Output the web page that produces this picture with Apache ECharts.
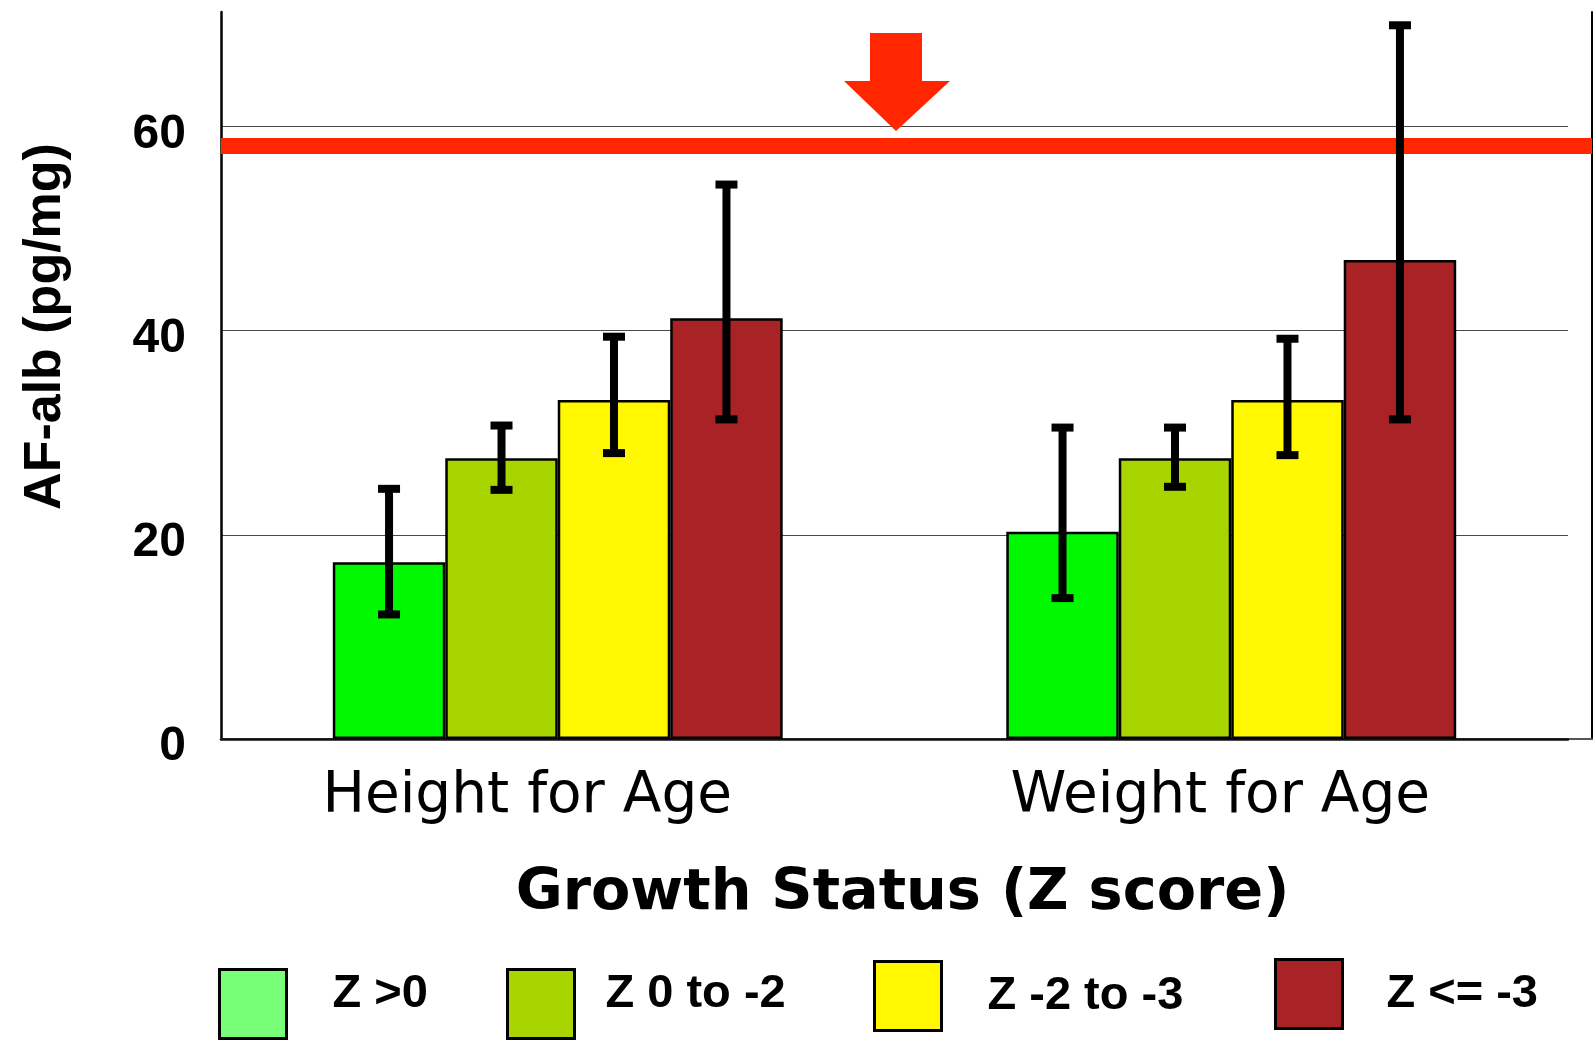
<!DOCTYPE html>
<html>
<head>
<meta charset="utf-8">
<title>AF-alb by Growth Status</title>
<script src="https://cdn.jsdelivr.net/npm/echarts@6/dist/echarts.min.js"></script>
<style>
  html, body { margin: 0; padding: 0; background: #ffffff; }
  #chart { width: 1595px; height: 1045px; }
</style>
</head>
<body>
<div id="chart"></div>
<script>
// Growth status groups on the x axis
const categories = ['Height for Age', 'Weight for Age'];

// Z-score classes (one bar series each)
const seriesNames = ['Z >0', 'Z 0 to -2', 'Z -2 to -3', 'Z <= -3'];

// Mean AF-alb (pg/mg) per class, in category order
const meanZPos   = [17.3, 20.3];
const meanZ0to2  = [27.5, 27.5];
const meanZ2to3  = [33.2, 33.2];
const meanZLe3   = [41.2, 46.9];

// Error bar limits (lower / upper) per class, in category order
const lowZPos   = [12.2, 13.8];
const highZPos  = [24.5, 30.5];
const lowZ0to2  = [24.4, 24.7];
const highZ0to2 = [30.7, 30.5];
const lowZ2to3  = [28.0, 27.8];
const highZ2to3 = [39.4, 39.2];
const lowZLe3   = [31.3, 31.3];
const highZLe3  = [54.3, 69.9];

// Reference level drawn as the red horizontal band
const thresholdValue = 58.1;

// Value axis range and tick step
const yMin = 0;
const yMax = 71.2;
const yStep = 20;

const means = [meanZPos, meanZ0to2, meanZ2to3, meanZLe3];
const lows = [lowZPos, lowZ0to2, lowZ2to3, lowZLe3];
const highs = [highZPos, highZ0to2, highZ2to3, highZLe3];

const barColors = ['#00f800', '#a8d400', '#fff800', '#a82226'];
const legendColors = ['#77ff77', '#a8d400', '#fff800', '#a82226'];

const BAR_FRAC = 0.167; // bar width as a share of the category band

const boldSans = 'Liberation Sans, Arial, sans-serif';

// error bar records: [categoryIndex, low, high, seriesIndex]
const errorData = [];
lows.forEach((lowArr, k) => {
  lowArr.forEach((lo, c) => {
    errorData.push([c, lo, highs[k][c], k]);
  });
});

const barSeries = seriesNames.map((name, k) => ({
  name: name,
  type: 'bar',
  xAxisIndex: 1,
  yAxisIndex: 2,
  barWidth: (BAR_FRAC * 100) + '%',
  barGap: '0%',
  z: 2,
  itemStyle: { color: barColors[k], borderColor: '#000', borderWidth: 2.5 },
  data: means[k]
}));

// legend placement for each class (box position, text offset, text raise)
const legendSpots = [
  { left: 218, top: 968, padLeft: 41, raise: 20 },
  { left: 506, top: 968, padLeft: 26, raise: 20 },
  { left: 873, top: 960, padLeft: 41, raise: 0 },
  { left: 1274, top: 958, padLeft: 39, raise: 0 }
];

const legends = seriesNames.map((name, k) => {
  const spot = legendSpots[k];
  const textStyle = {
    fontFamily: boldSans,
    fontWeight: 'bold',
    fontSize: 47,
    color: '#000',
    padding: [0, 0, 0, spot.padLeft]
  };
  let formatter = (n) => n;
  if (spot.raise > 0) {
    // a trailing empty line lifts the text above the box centre
    textStyle.lineHeight = spot.raise;
    formatter = (n) => n + '\n ';
  }
  return {
    show: true,
    left: spot.left,
    top: spot.top,
    padding: 0,
    selectedMode: false,
    icon: 'rect',
    itemWidth: 67,
    itemHeight: 69,
    formatter: formatter,
    data: [{
      name: name,
      itemStyle: { color: legendColors[k], borderColor: '#000', borderWidth: 3 }
    }],
    textStyle: textStyle
  };
});

const chart = echarts.init(document.getElementById('chart'), null, { renderer: 'canvas' });

chart.setOption({
  animation: false,
  backgroundColor: '#ffffff',
  legend: legends,
  grid: [
    // outer frame (left / bottom / right border, red reference band)
    { left: 221, right: 3, top: 12, bottom: 306 },
    // plotting area for the bars
    { left: 221, right: 27, top: 12, bottom: 306 }
  ],
  xAxis: [
    {
      type: 'value', gridIndex: 0, min: 0, max: 1,
      axisLine: { show: true, lineStyle: { color: '#555', width: 2 } },
      axisTick: { show: false }, axisLabel: { show: false }, splitLine: { show: false }
    },
    {
      type: 'category', gridIndex: 1, data: categories,
      axisLine: { show: true, lineStyle: { color: '#111', width: 2.5 } },
      axisTick: { show: false },
      axisLabel: {
        margin: 30,
        formatter: (v, i) => '{c' + i + '|' + v + '}',
        rich: {
          c0: { fontFamily: 'DejaVu Sans', fontSize: 56.5, color: '#000', padding: [0, 61, 0, 0] },
          c1: { fontFamily: 'DejaVu Sans', fontSize: 56.5, color: '#000', padding: [0, 22, 0, 0] }
        }
      },
      name: 'Growth Status (Z score)',
      nameLocation: 'middle',
      nameGap: 127,
      nameTextStyle: {
        fontFamily: 'DejaVu Sans', fontWeight: 'bold', fontSize: 57.3, color: '#000',
        padding: [0, 0, 0, 16]
      }
    }
  ],
  yAxis: [
    {
      type: 'value', gridIndex: 0, min: yMin, max: yMax, interval: yStep,
      position: 'left',
      axisLine: { show: true, lineStyle: { color: '#000', width: 2.5 } },
      axisTick: { show: false },
      splitLine: { show: false },
      axisLabel: {
        margin: 35, showMaxLabel: false,
        fontFamily: boldSans, fontWeight: 'bold', fontSize: 48, color: '#000',
        lineHeight: 16,
        // a leading empty line drops the number slightly below its gridline
        formatter: (v) => '\n' + v
      },
      name: 'AF-alb (pg/mg)',
      nameLocation: 'middle',
      nameRotate: 90,
      nameGap: 149,
      nameTextStyle: {
        fontFamily: boldSans, fontWeight: 'bold', fontSize: 52, color: '#000',
        padding: [0, 0, 0, 98]
      }
    },
    {
      type: 'value', gridIndex: 0, min: yMin, max: yMax, position: 'right',
      axisLine: { show: true, lineStyle: { color: '#000', width: 2 } },
      axisTick: { show: false }, axisLabel: { show: false }, splitLine: { show: false }
    },
    {
      type: 'value', gridIndex: 1, min: yMin, max: yMax, interval: yStep,
      axisLine: { show: false }, axisTick: { show: false }, axisLabel: { show: false },
      splitLine: {
        show: true, showMinLine: false, showMaxLine: false,
        lineStyle: { color: '#4a4a4a', width: 1.2 }
      }
    }
  ],
  graphic: [
    {
      // downward arrow pointing at the reference band
      type: 'polygon',
      z: 20,
      shape: {
        points: [[870, 33], [922, 33], [922, 81], [950, 81], [896, 131], [844, 81], [870, 81]]
      },
      style: { fill: '#ff2600' }
    }
  ],
  series: [
    {
      name: 'reference',
      type: 'line',
      xAxisIndex: 0,
      yAxisIndex: 0,
      data: [],
      z: 3,
      markLine: {
        silent: true,
        symbol: 'none',
        label: { show: false },
        lineStyle: { color: '#ff2600', width: 16, type: 'solid' },
        data: [{ yAxis: thresholdValue }]
      }
    },
    ...barSeries,
    {
      name: 'error',
      type: 'custom',
      xAxisIndex: 1,
      yAxisIndex: 2,
      z: 10,
      encode: { x: 0, y: [1, 2] },
      data: errorData,
      renderItem: function (params, api) {
        const cat = api.value(0);
        const lo = api.value(1);
        const hi = api.value(2);
        const k = api.value(3);
        const band = api.size([1, 0])[0];
        const base = api.coord([cat, lo]);
        const x = base[0] + (k - 1.5) * band * BAR_FRAC;
        const yLo = base[1];
        const yHi = api.coord([cat, hi])[1];
        const capW = 22, capH = 8;
        return {
          type: 'group',
          children: [
            { type: 'line', shape: { x1: x, y1: yLo, x2: x, y2: yHi },
              style: { stroke: '#000', lineWidth: 8 } },
            { type: 'rect', shape: { x: x - capW / 2, y: yHi - capH / 2, width: capW, height: capH },
              style: { fill: '#000' } },
            { type: 'rect', shape: { x: x - capW / 2, y: yLo - capH / 2, width: capW, height: capH },
              style: { fill: '#000' } }
          ]
        };
      }
    }
  ]
});
</script>
</body>
</html>
